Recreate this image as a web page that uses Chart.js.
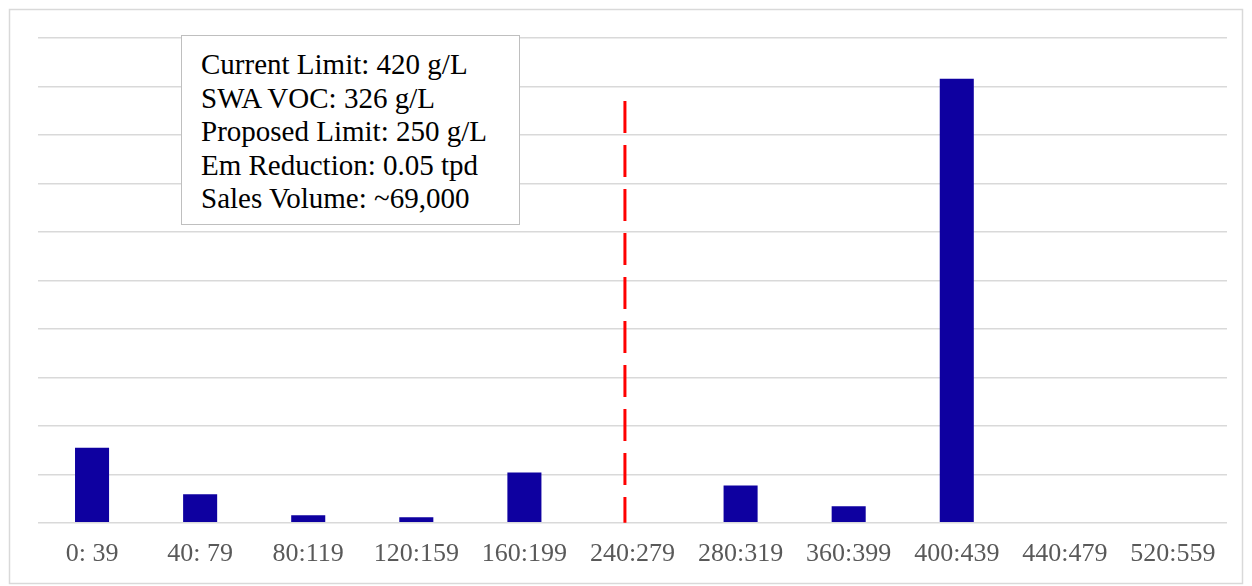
<!DOCTYPE html>
<html lang="en">
<head>
  <meta charset="UTF-8" />
  <title>VOC Distribution</title>
  <script src="https://cdn.jsdelivr.net/npm/chart.js"></script>
  <style>
    body { margin: 0; background: #fff; }
    #wrap { position: relative; width: 1252px; height: 586px; }
    canvas { display: block; }
    #note {
      position: absolute; left: 181px; top: 35px; width: 339px; height: 190px;
      border: 1.5px solid #bfbfbf; background: #fff; box-sizing: border-box;
      font-family: "Liberation Serif", serif; font-size: 29px; line-height: 33.5px;
      color: #000; padding: 12px 0 0 19px; white-space: nowrap;
    }
  </style>
</head>
<body>
<div id="wrap">
  <canvas id="chart" width="1252" height="586"></canvas>
  <div id="note"></div>
</div>

<script>
const ranges = ['0: 39', '40: 79', '80:119', '120:159', '160:199', '240:279',
                '280:319', '360:399', '400:439', '440:479', '520:559'];
const shares = [1.55, 0.59, 0.155, 0.115, 1.04, 0, 0.77, 0.34, 9.16, 0, 0];
const noteLines = ['Current Limit: 420 g/L', 'SWA VOC: 326 g/L', 'Proposed Limit: 250 g/L',
                   'Em Reduction: 0.05 tpd', 'Sales Volume: ~69,000'];
// proposed limit marker: position on the category axis and height on the value axis
const limitPos = 4.93;
const limitTop = 8.7;

document.getElementById('note').innerHTML = noteLines.map(t => `<div>${t}</div>`).join('');

const frame = {
  id: 'frame',
  beforeDraw(chart) {
    const c = chart.ctx;
    c.save();
    c.strokeStyle = '#d9d9d9';
    c.lineWidth = 1.5;
    c.strokeRect(9.5, 9.5, 1233, 574);
    c.restore();
  }
};

const limitLine = {
  id: 'limitLine',
  afterDatasetsDraw(chart) {
    const c = chart.ctx;
    const x = chart.scales.x.getPixelForValue(limitPos);
    const y0 = chart.scales.y.getPixelForValue(limitTop);
    const y1 = chart.scales.y.getPixelForValue(0);
    c.save();
    c.strokeStyle = '#ff0000';
    c.lineWidth = 3;
    c.setLineDash([32, 12]);
    c.beginPath();
    c.moveTo(x, y0);
    c.lineTo(x, y1);
    c.stroke();
    c.restore();
  }
};

new Chart(document.getElementById('chart').getContext('2d'), {
  type: 'bar',
  data: {
    labels: ranges,
    datasets: [{
      data: shares,
      backgroundColor: '#0e00a0',
      categoryPercentage: 1,
      barPercentage: 0.315
    }]
  },
  options: {
    responsive: false,
    animation: false,
    layout: { padding: { left: 38, right: 25, top: 38, bottom: 0 } },
    plugins: { legend: { display: false }, tooltip: { enabled: false } },
    scales: {
      x: {
        grid: { display: false, drawTicks: false },
        border: { display: false },
        ticks: {
          color: '#595959',
          padding: 16,
          maxRotation: 0,
          autoSkip: false,
          font: { family: 'Liberation Serif', size: 26 }
        }
      },
      y: {
        min: 0, max: 10,
        afterFit: s => { s.width = 0; },
        ticks: { display: false, stepSize: 1 },
        grid: { color: '#d9d9d9', lineWidth: 1.5, drawTicks: false },
        border: { display: false }
      }
    }
  },
  plugins: [frame, limitLine]
});
</script>
</body>
</html>
